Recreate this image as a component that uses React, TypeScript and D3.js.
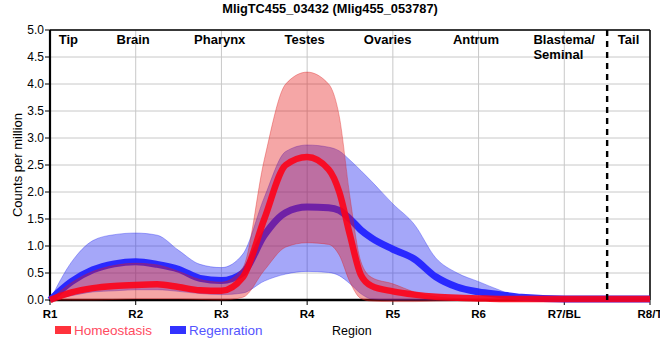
import React from "react";
import * as d3 from "d3";

const xs = [1, 1.25, 1.5, 1.75, 2, 2.25, 2.5, 2.75, 3, 3.25, 3.5, 3.75, 4, 4.25, 4.375, 4.5, 4.625, 4.75, 5, 5.25, 5.5, 5.75, 6, 6.25, 6.5, 7, 7.5, 8];

const homeoMean = [0, 0.14, 0.22, 0.26, 0.28, 0.29, 0.24, 0.18, 0.17, 0.42, 1.5, 2.5, 2.65, 2.42, 2.0, 1.2, 0.47, 0.26, 0.16, 0.1, 0.06, 0.04, 0.03, 0.02, 0.02, 0.02, 0.02, 0.02];
const homeoUpper = [0, 0.32, 0.53, 0.64, 0.68, 0.65, 0.53, 0.38, 0.33, 0.6, 2.6, 4.0, 4.22, 4.0, 3.4, 1.9, 0.72, 0.42, 0.3, 0.15, 0.06, 0.03, 0.02, 0.02, 0.02, 0.02, 0.02, 0.02];
const homeoLower = [0, 0, 0, 0.01, 0.02, 0.02, 0.02, 0.01, 0.0, 0.05, 0.55, 0.98, 1.06, 1.03, 0.83, 0.33, 0.03, -0.02, -0.03, -0.03, -0.02, -0.01, 0.0, 0.01, 0.02, 0.02, 0.02, 0.02];

const regenMean = [0, 0.34, 0.56, 0.67, 0.71, 0.66, 0.57, 0.4, 0.36, 0.5, 1.2, 1.62, 1.72, 1.71, 1.66, 1.5, 1.3, 1.15, 0.94, 0.76, 0.43, 0.24, 0.15, 0.1, 0.05, 0.02, 0.02, 0.02];
const regenUpper = [0, 0.7, 1.1, 1.21, 1.24, 1.2, 0.92, 0.66, 0.6, 0.85, 1.9, 2.75, 2.87, 2.83, 2.76, 2.59, 2.4, 2.2, 1.78, 1.4, 0.78, 0.5, 0.34, 0.18, 0.05, 0.02, 0.02, 0.02];
const regenLower = [0, 0.08, 0.15, 0.17, 0.19, 0.19, 0.16, 0.12, 0.1, 0.13, 0.35, 0.48, 0.53, 0.51, 0.45, 0.3, 0.12, 0.02, 0, 0, 0, 0, 0, 0.01, 0.02, 0.02, 0.02, 0.02];

const regionTicks = [1, 2, 3, 4, 5, 6, 7, 8];
const regionTickLabels = ["R1", "R2", "R3", "R4", "R5", "R6", "R7/BL", "R8/T"];
const yTicks = [0, 0.5, 1, 1.5, 2, 2.5, 3, 3.5, 4, 4.5, 5];

const tissueNames = ["Tip", "Brain", "Pharynx", "Testes", "Ovaries", "Antrum", "Blastema/", "Tail"];
const tissueSecondLine = ["", "", "", "", "", "", "Seminal", ""];
const tissuePos = [1.215, 1.97, 2.98, 3.97, 4.94, 5.97, 6.64, 7.75];
const dividerAt = 7.5;

const title = "MligTC455_03432 (Mlig455_053787)";
const seriesNames = ["Homeostasis", "Regenration"];

const W = 660;
const H = 360;
const M = { left: 50, right: 10, top: 30, bottom: 60 };
const FONT = "'Liberation Sans', Arial, Helvetica, sans-serif";

export default function App() {
  const x = d3.scaleLinear().domain([1, 8]).range([M.left, W - M.right]);
  const y = d3.scaleLinear().domain([0, 5]).range([H - M.bottom, M.top]);

  type P = { x: number; m: number; lo: number; hi: number };
  const mk = (m: number[], lo: number[], hi: number[]): P[] =>
    xs.map((xv, i) => ({ x: xv, m: m[i], lo: lo[i], hi: hi[i] }));
  const homeo = mk(homeoMean, homeoLower, homeoUpper);
  const regen = mk(regenMean, regenLower, regenUpper);

  const curve = d3.curveMonotoneX;
  const area = d3
    .area<P>()
    .x((d) => x(d.x))
    .y0((d) => y(d.lo))
    .y1((d) => y(d.hi))
    .curve(curve);
  const lineM = d3.line<P>().x((d) => x(d.x)).y((d) => y(d.m)).curve(curve);
  const lineHi = d3.line<P>().x((d) => x(d.x)).y((d) => y(d.hi)).curve(curve);
  const lineLo = d3.line<P>().x((d) => x(d.x)).y((d) => y(d.lo)).curve(curve);

  const x0 = x(1);
  const x1 = x(8);
  const yb = y(0);
  const yt = y(5);

  return (
    <svg
      width={W}
      height={H}
      style={{ position: "absolute", left: 0, top: 0, background: "#fff" }}
      fontFamily={FONT}
    >
      <rect x={0} y={0} width={W} height={H} fill="#fff" />
      <text x={W / 2} y={13} textAnchor="middle" fontSize={12.8} fontWeight="bold" fill="#000">
        {title}
      </text>

      {/* grid */}
      {yTicks.map((t) => (
        <line key={"gy" + t} x1={x0} x2={x1} y1={y(t)} y2={y(t)} stroke="#c8c8c8" strokeWidth={1} />
      ))}
      {regionTicks.map((t) => (
        <line key={"gx" + t} x1={x(t)} x2={x(t)} y1={yt} y2={yb} stroke="#c8c8c8" strokeWidth={1} />
      ))}

      {/* borders */}
      <line x1={x0} x2={x1} y1={yt} y2={yt} stroke="#000" strokeWidth={1.5} />
      <line x1={x1} x2={x1} y1={yt} y2={yb} stroke="#000" strokeWidth={1.5} />
      <line x1={x0} x2={x0} y1={yt} y2={yb + 1} stroke="#000" strokeWidth={2.2} />
      <line x1={x0 - 1} x2={x1} y1={yb} y2={yb} stroke="#000" strokeWidth={2.6} />
      {yTicks.map((t) => (
        <line key={"ty" + t} x1={x0 - 5} x2={x0} y1={y(t)} y2={y(t)} stroke="#000" strokeWidth={1} />
      ))}
      {regionTicks.map((t) => (
        <line key={"tx" + t} x1={x(t)} x2={x(t)} y1={yb} y2={yb + 5} stroke="#000" strokeWidth={1} />
      ))}

      {/* regeneration band + line */}
      <path d={area(regen) || ""} fill="rgb(30,35,240)" fillOpacity={0.4} />
      <path d={lineHi(regen) || ""} fill="none" stroke="rgb(30,35,240)" strokeOpacity={0.35} strokeWidth={1} />
      <path d={lineLo(regen) || ""} fill="none" stroke="rgb(30,35,240)" strokeOpacity={0.35} strokeWidth={1} />
      <path d={lineM(regen) || ""} fill="none" stroke="rgb(30,30,255)" strokeOpacity={0.92} strokeWidth={7} />

      {/* homeostasis band + line */}
      <path d={area(homeo) || ""} fill="rgb(230,20,20)" fillOpacity={0.38} />
      <path d={lineHi(homeo) || ""} fill="none" stroke="rgb(220,30,30)" strokeOpacity={0.35} strokeWidth={1} />
      <path d={lineLo(homeo) || ""} fill="none" stroke="rgb(220,30,30)" strokeOpacity={0.35} strokeWidth={1} />
      <path d={lineM(homeo) || ""} fill="none" stroke="rgb(255,0,20)" strokeOpacity={0.88} strokeWidth={6.5} />

      {/* divider */}
      <line
        x1={x(dividerAt)}
        x2={x(dividerAt)}
        y1={yt}
        y2={yb}
        stroke="#000"
        strokeWidth={2.4}
        strokeDasharray="6,5"
      />

      {/* tissue labels */}
      {tissueNames.map((n, i) =>
        tissueSecondLine[i] ? (
          <text key={n} x={x(tissuePos[i])} y={44} fontSize={13} fontWeight="bold" fill="#000" textAnchor="start">
            <tspan x={x(tissuePos[i])} y={44}>{n}</tspan>
            <tspan x={x(tissuePos[i])} y={59}>{tissueSecondLine[i]}</tspan>
          </text>
        ) : (
          <text key={n} x={x(tissuePos[i])} y={44} fontSize={13} fontWeight="bold" fill="#000" textAnchor="middle">
            {n}
          </text>
        )
      )}

      {/* y tick labels */}
      {yTicks.map((t) => (
        <text key={"ly" + t} x={x0 - 6} y={y(t) + 4} fontSize={12} textAnchor="end" fill="#000">
          {t.toFixed(1)}
        </text>
      ))}
      {/* x tick labels */}
      {regionTicks.map((t, i) => (
        <text key={"lx" + t} x={x(t)} y={318} fontSize={11.5} fontWeight="bold" textAnchor="middle" fill="#000">
          {regionTickLabels[i]}
        </text>
      ))}

      <text
        transform={`translate(22,${(yt + yb) / 2}) rotate(-90)`}
        textAnchor="middle"
        fontSize={13}
        fill="#000"
      >
        Counts per million
      </text>
      <text x={332} y={335} fontSize={12.5} fill="#000">
        Region
      </text>

      {/* legend */}
      <rect x={55} y={326} width={16} height={8} fill="rgb(255,50,60)" />
      <text x={74} y={335} fontSize={13.5} fill="rgb(255,75,95)">
        {seriesNames[0]}
      </text>
      <rect x={170} y={326} width={16} height={8} fill="rgb(50,50,255)" />
      <text x={189} y={335} fontSize={13.5} fill="rgb(85,85,255)">
        {seriesNames[1]}
      </text>
    </svg>
  );
}
